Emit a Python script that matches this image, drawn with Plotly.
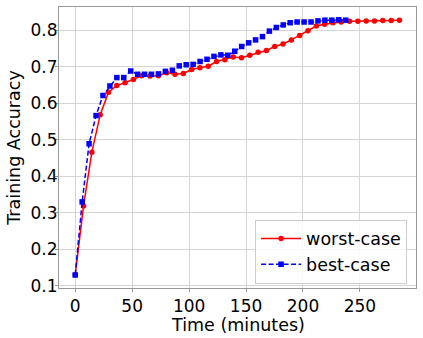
import plotly.graph_objects as go

worst_time = [round(i * 7.3, 2) for i in range(40)]
worst_acc = [0.131, 0.319, 0.466, 0.568, 0.630, 0.648, 0.656, 0.665, 0.675, 0.674,
             0.675, 0.683, 0.679, 0.681, 0.692, 0.697, 0.701, 0.714, 0.719, 0.726,
             0.724, 0.731, 0.739, 0.744, 0.755, 0.762, 0.773, 0.785, 0.798, 0.811,
             0.816, 0.820, 0.822, 0.824, 0.824, 0.825, 0.825, 0.826, 0.826, 0.827]

best_time = [round(i * 6.09, 2) for i in range(40)]
best_acc = [0.130, 0.330, 0.489, 0.566, 0.621, 0.647, 0.670, 0.670, 0.688, 0.679,
            0.679, 0.679, 0.680, 0.687, 0.690, 0.702, 0.705, 0.706, 0.714, 0.720,
            0.728, 0.732, 0.731, 0.742, 0.755, 0.765, 0.773, 0.782, 0.797, 0.807,
            0.814, 0.820, 0.822, 0.822, 0.822, 0.825, 0.827, 0.827, 0.828, 0.827]

x_ticks = [0, 50, 100, 150, 200, 250]
y_ticks = [0.1, 0.2, 0.3, 0.4, 0.5, 0.6, 0.7, 0.8]

FONT = "DejaVu Sans"

fig = go.Figure()
fig.add_trace(go.Scatter(x=worst_time, y=worst_acc, name="worst-case", mode="lines+markers",
                         line=dict(color="#ff0000", width=1.5),
                         marker=dict(symbol="circle", size=5.5, color="#ff0000")))
fig.add_trace(go.Scatter(x=best_time, y=best_acc, name="best-case", mode="lines+markers",
                         line=dict(color="#0000ff", width=1.5, dash="5px,2.5px"),
                         marker=dict(symbol="square", size=5.5, color="#0000ff")))

axis_common = dict(showgrid=True, gridcolor="#d6d6d6", gridwidth=1, zeroline=False,
                   showline=True, linecolor="#999999", linewidth=1, mirror=True,
                   ticks="outside", ticklen=3, tickcolor="#999999", automargin=False,
                   tickfont=dict(family=FONT, size=17, color="#000000"))

fig.update_layout(
    width=423, height=338,
    margin=dict(l=59, r=7, t=7, b=50),
    paper_bgcolor="white", plot_bgcolor="white",
    font=dict(family=FONT, color="#000000"),
    xaxis=dict(range=[-14.25, 299.25], tickvals=x_ticks, **axis_common),
    yaxis=dict(range=[0.0945, 0.863], tickvals=y_ticks, tickformat=".1f",
               ticklabelstandoff=-6,
               title=dict(text="Training Accuracy", font=dict(family=FONT, size=17.5), standoff=5),
               **axis_common),
    legend=dict(x=0.975, y=0.016, xanchor="right", yanchor="bottom",
                bgcolor="rgba(255,255,255,0.85)", bordercolor="#cccccc", borderwidth=1,
                font=dict(family=FONT, size=17.5), itemwidth=40, tracegroupgap=2),
    showlegend=True,
    annotations=[dict(text="Time (minutes)", xref="paper", yref="paper", x=0.5, y=-0.13,
                      xanchor="center", yanchor="middle", showarrow=False,
                      font=dict(family=FONT, size=17.5, color="#000000"))],
)

fig.write_html("out.html", config={"displayModeBar": False},
               post_script="document.body.style.margin='0';")
